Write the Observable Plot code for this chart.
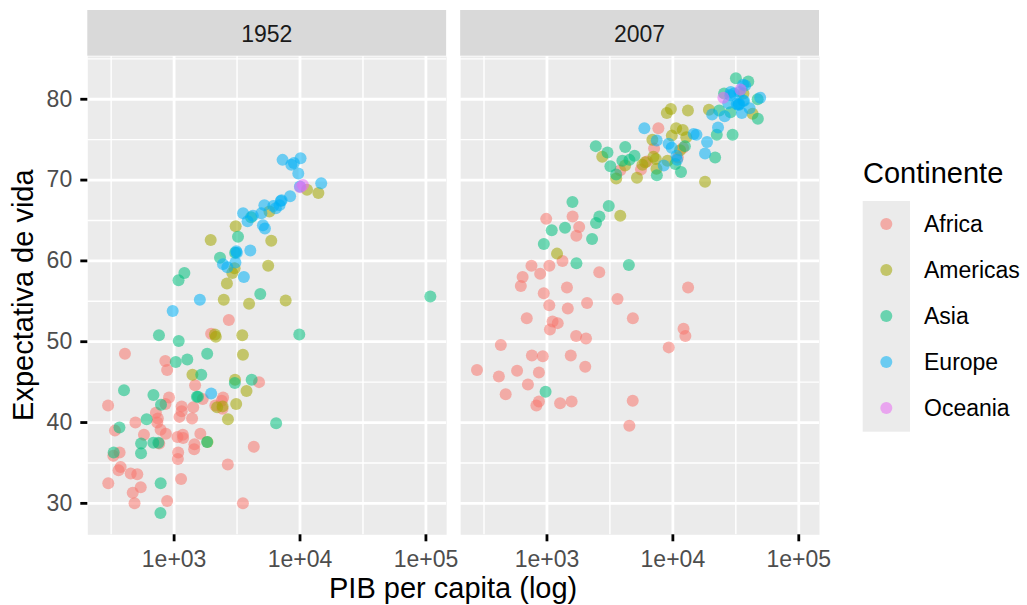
<!DOCTYPE html>
<html>
<head>
<meta charset="utf-8">
<script src="https://cdn.jsdelivr.net/npm/d3@7"></script>
<script src="https://cdn.jsdelivr.net/npm/@observablehq/plot@0.6"></script>
<style>
  body { margin: 0; background: #ffffff; }
  #chart { width: 1027px; height: 605px; }
  svg g[aria-label="x-axis tick"], svg g[aria-label="y-axis tick"] { stroke: #333333; }
  svg g[aria-label="x-axis tick label"], svg g[aria-label="y-axis tick label"] { fill: #4D4D4D; }
</style>
</head>
<body>
<div id="chart"></div>
<script>
// ---- categories & labels ----
const continents = ["Africa", "Americas", "Asia", "Europe", "Oceania"];
const years = ["1952", "2007"];
const palette = ["#F8766D", "#A3A500", "#00BF7D", "#00B0F6", "#E76BF3"];
const xTicks = [1e3, 1e4, 1e5];
const xTickLabels = ["1e+03", "1e+04", "1e+05"];
const xMinor = [316.23, 3162.28, 31622.78];
const yTicks = [30, 40, 50, 60, 70, 80];
const yMinor = [35, 45, 55, 65, 75, 85];
const xTitle = "PIB per capita (log)";
const yTitle = "Expectativa de vida";
const legendTitle = "Continente";

// ---- values: [PIB per capita, expectativa de vida] ----
const africa1952 = [[2449,43.1],[3521,30.0],[1063,38.2],[851,47.6],[543,32.0],[339,39.0],[1173,38.5],[1071,35.5],[1179,38.1],[1103,40.7],[781,39.1],[2126,42.1],[1389,40.5],[2670,34.8],[1419,41.9],[376,34.5],[329,35.9],[362,34.1],[4293,37.0],[485,30.0],[911,43.1],[510,33.6],[300,32.5],[854,42.3],[299,42.1],[576,38.5],[2388,42.7],[1443,36.7],[369,36.3],[452,33.7],[743,40.5],[1968,51.0],[1688,42.9],[469,31.3],[2424,41.7],[762,37.4],[1077,36.3],[2719,52.7],[493,40.0],[880,46.5],[1450,37.3],[880,30.3],[1136,33.0],[4725,45.0],[1616,38.6],[1148,41.4],[717,41.2],[860,38.6],[1468,44.6],[735,40.0],[1147,42.0],[407,48.5]];
const africa2007 = [[6223,72.3],[4797,42.7],[1441,56.7],[12570,50.7],[1217,52.3],[430,49.6],[2042,50.4],[706,44.7],[1704,50.7],[986,65.2],[278,46.5],[3633,55.3],[1545,48.3],[2082,54.8],[5581,71.3],[12154,51.6],[641,58.0],[691,52.9],[13206,56.7],[753,59.4],[1328,60.0],[943,56.0],[579,46.4],[1463,54.1],[1569,42.6],[415,45.7],[12057,74.0],[1045,59.4],[759,48.3],[1043,54.5],[1803,64.2],[10957,72.8],[3820,71.2],[824,42.1],[4811,52.9],[620,56.9],[2014,46.9],[7670,76.4],[863,46.2],[1598,65.5],[1712,63.1],[863,42.6],[926,48.2],[9270,49.3],[2602,58.6],[4513,39.6],[1107,52.5],[883,58.4],[7093,73.9],[1056,51.5],[1271,42.4],[470,43.5]];
const americas1952 = [[5911,62.5],[2677,40.4],[2109,50.9],[11367,68.8],[3940,54.7],[2144,50.6],[2627,57.2],[5587,59.4],[1398,45.9],[3522,48.4],[3048,45.3],[2428,42.0],[1840,37.6],[2195,41.9],[2899,58.5],[3478,50.8],[3112,42.3],[2480,55.2],[1952,62.6],[3759,43.9],[3082,64.3],[3023,59.1],[13990,68.4],[5717,66.1],[7690,55.1]];
const americas2007 = [[12779,75.3],[3822,65.6],[9066,72.4],[36319,80.7],[13172,78.6],[7007,72.9],[9645,78.8],[8948,78.3],[6025,72.2],[6873,75.0],[5728,71.9],[5186,70.3],[1202,60.9],[3548,70.2],[7321,72.6],[11978,76.2],[2749,72.9],[9809,75.5],[4173,71.8],[7409,71.4],[19329,78.7],[18009,69.8],[42952,78.2],[10611,76.4],[11416,73.7]];
const asia1952 = [[779,28.8],[9867,50.9],[684,37.5],[368,39.4],[400,44.0],[3054,61.0],[547,37.4],[750,37.5],[3035,44.9],[4130,45.3],[4087,65.4],[3217,63.0],[1547,43.2],[1088,50.1],[1031,47.5],[108382,55.6],[4835,55.9],[1831,48.5],[787,42.2],[331,36.3],[546,36.2],[1828,37.6],[685,43.4],[1273,47.8],[6460,39.9],[2315,60.4],[1084,57.6],[1643,45.9],[1207,58.5],[758,50.8],[605,40.4],[1516,43.2],[782,32.5]];
const asia2007 = [[975,43.8],[29796,75.6],[1391,64.1],[1714,59.7],[4959,73.0],[39725,82.2],[2452,64.7],[3541,70.7],[11606,71.0],[4471,59.5],[25523,80.7],[31656,82.6],[4519,72.5],[1593,67.3],[23348,78.6],[47307,77.6],[10461,72.0],[12452,74.2],[3096,66.8],[944,62.1],[1091,63.8],[22316,75.6],[2606,65.5],[3190,71.7],[21655,72.8],[47143,80.0],[3970,72.4],[4185,74.1],[28718,78.4],[7458,70.6],[2442,74.2],[3025,73.4],[2281,62.7]];
const europe1952 = [[1601,55.2],[6137,66.8],[8343,68.0],[974,53.8],[2444,59.6],[3119,61.2],[6876,66.9],[9692,70.8],[6425,66.5],[7030,67.4],[7144,67.5],[3531,65.9],[5264,64.0],[7268,72.5],[5210,66.9],[4931,65.9],[2648,59.2],[8942,72.1],[10095,72.7],[4029,61.3],[3068,59.8],[3145,61.0],[3581,58.0],[5075,64.4],[4215,65.6],[3834,64.9],[8528,71.9],[14734,69.6],[1969,43.6],[9980,69.2]];
const europe2007 = [[5937,76.4],[36126,79.8],[33693,79.4],[7446,74.9],[10681,73.0],[14619,75.7],[22833,76.5],[35278,78.3],[33207,79.3],[30470,80.7],[32170,79.4],[27538,79.5],[18009,73.3],[36181,81.8],[40676,78.9],[28570,80.5],[9254,74.5],[36798,79.8],[49357,80.2],[15390,75.6],[20510,78.1],[10808,72.5],[9787,74.0],[18678,74.7],[25768,77.9],[28821,80.9],[33860,80.9],[37506,81.7],[8458,71.8],[33203,79.4]];
const oceania1952 = [[10040,69.1],[10557,69.4]];
const oceania2007 = [[34435,81.2],[25185,80.2]];

const series = [
  ["Africa", "1952", africa1952], ["Americas", "1952", americas1952], ["Asia", "1952", asia1952],
  ["Europe", "1952", europe1952], ["Oceania", "1952", oceania1952],
  ["Africa", "2007", africa2007], ["Americas", "2007", americas2007], ["Asia", "2007", asia2007],
  ["Europe", "2007", europe2007], ["Oceania", "2007", oceania2007]
];
const data = series.flatMap(([continent, year, rows]) =>
  rows.map(([gdp, life]) => ({continent, year, gdp, life})));

// ggplot-like 5% expansion
const lx = d3.extent(data, d => Math.log10(d.gdp));
const ex = (lx[1] - lx[0]) * 0.05;
const xDomain = [Math.pow(10, lx[0] - ex), Math.pow(10, lx[1] + ex)];
const ly = d3.extent(data, d => d.life);
const ey = (ly[1] - ly[0]) * 0.05;
const yDomain = [ly[0] - ey, ly[1] + ey];

const FONT = "'Liberation Sans', Arial, Helvetica, sans-serif";
const W = 1027, H = 605;
const mL = 87.3, mR = 208, mT = 56, mB = 70.7;

const plot = Plot.plot({
  width: W, height: H,
  marginLeft: mL, marginRight: mR, marginTop: mT, marginBottom: mB,
  style: {fontFamily: FONT, fontSize: "23px", background: "#ffffff", overflow: "visible"},
  x: {type: "log", domain: xDomain},
  y: {domain: yDomain},
  fx: {domain: years, paddingInner: 0.0376, paddingOuter: 0, axis: null, round: false},
  color: {domain: continents, range: palette},
  marks: [
    Plot.frame({fill: "#EBEBEB", stroke: "none"}),
    Plot.ruleX(xMinor, {stroke: "#ffffff", strokeWidth: 1.4}),
    Plot.ruleY(yMinor, {stroke: "#ffffff", strokeWidth: 1.4}),
    Plot.ruleX(xTicks, {stroke: "#ffffff", strokeWidth: 2.8}),
    Plot.ruleY(yTicks, {stroke: "#ffffff", strokeWidth: 2.8}),
    Plot.dot(data, {x: "gdp", y: "life", fx: "year", fill: "continent", r: 6, fillOpacity: 0.55, stroke: "none"}),
    Plot.axisX(xTicks, {tickSize: 7, tickPadding: 8.7, strokeWidth: 2.8, fontSize: 23,
      tickFormat: d => xTickLabels[xTicks.indexOf(d)], label: null, facetAnchor: "bottom"}),
    Plot.axisY(yTicks, {tickSize: 7, tickPadding: 8.6, strokeWidth: 2.8, fontSize: 23,
      label: null, facetAnchor: "left"})
  ]
});

document.getElementById("chart").appendChild(plot);

// ---- strips, axis titles and legend, placed with the library's scales ----
const svg = d3.select(plot);
const fx = plot.scale("fx");
const bw = fx.bandwidth;
const strips = svg.insert("g", ":first-child").attr("aria-label", "strips");
years.forEach(y => {
  const x0 = fx.apply(y);
  strips.append("rect").attr("x", x0).attr("y", 10).attr("width", bw).attr("height", 45.7).attr("fill", "#D9D9D9");
  strips.append("text").attr("x", x0 + bw / 2).attr("y", 41.6).attr("text-anchor", "middle")
    .attr("fill", "#1A1A1A").style("font-size", "23px").style("font-family", FONT).text(y);
});

const firstX = fx.apply(years[0]);
const lastX = fx.apply(years[years.length - 1]) + bw;
svg.append("text").attr("x", (firstX + lastX) / 2).attr("y", 598)
  .attr("text-anchor", "middle").attr("fill", "#000").style("font-size", "29px").style("font-family", FONT)
  .text(xTitle);
svg.append("text").attr("transform", `translate(32.5,${(mT + (H - mB)) / 2}) rotate(-90)`)
  .attr("text-anchor", "middle").attr("fill", "#000").style("font-size", "29px").style("font-family", FONT)
  .text(yTitle);

const color = plot.scale("color");
const lg = svg.append("g").attr("aria-label", "legend").attr("text-anchor", "start");
lg.append("text").attr("x", 863).attr("y", 183.3).attr("fill", "#000").attr("text-anchor", "start")
  .style("font-size", "29px").style("font-family", FONT).text(legendTitle);
lg.append("rect").attr("x", 862.7).attr("y", 201).attr("width", 47.3).attr("height", 230.7).attr("fill", "#EBEBEB");
continents.forEach((c, i) => {
  const cy = 224 + 46 * i;
  lg.append("circle").attr("cx", 886.3).attr("cy", cy).attr("r", 6)
    .attr("fill", color.apply(c)).attr("fill-opacity", 0.55);
  lg.append("text").attr("x", 924).attr("y", cy + 8.4).attr("fill", "#000").attr("text-anchor", "start")
    .style("font-size", "23px").style("font-family", FONT).text(c);
});
</script>
</body>
</html>
